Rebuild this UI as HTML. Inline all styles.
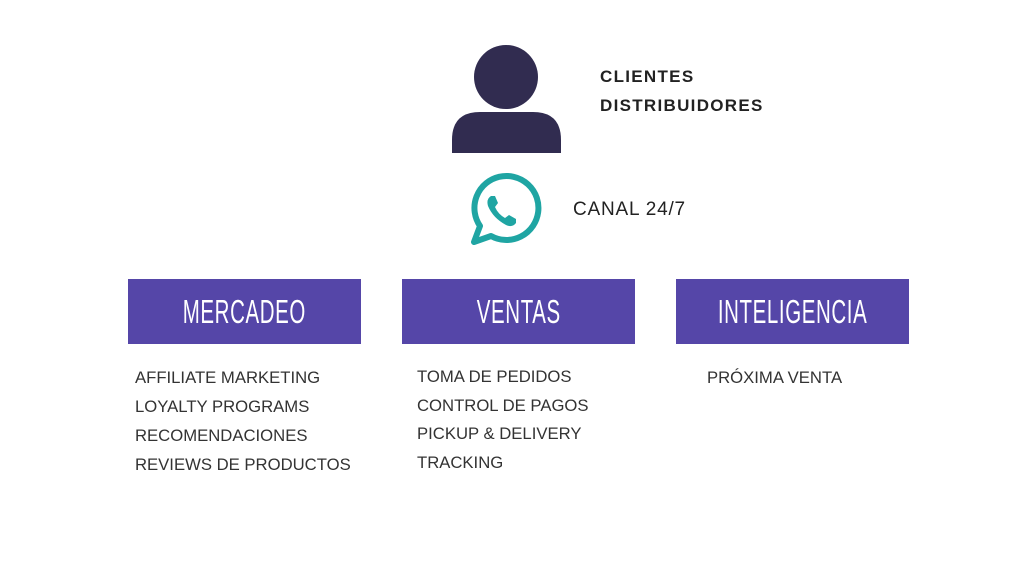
<!DOCTYPE html>
<html><head><style>
body{margin:0;width:1024px;height:576px;background:#fff;position:relative;overflow:hidden;font-family:"Liberation Sans",sans-serif}
.box{position:absolute;top:279px;width:233px;height:65px;background:#5546a8;color:#fff;display:flex;align-items:center;justify-content:center}
.box span{font-size:33px;display:inline-block;transform:scaleX(0.62);letter-spacing:1px;white-space:nowrap}
.list{position:absolute;font-size:16.7px;color:#333;line-height:29px;white-space:nowrap}
.t{position:absolute;color:#222;white-space:nowrap}
</style></head><body>
<svg width="1024" height="576" style="position:absolute;left:0;top:0">
<circle cx="506" cy="77" r="32" fill="#312c50"/>
<path d="M452 153 L452 140 Q452 112 480 112 L533 112 Q561 112 561 140 L561 153 Z" fill="#312c50"/>
<g fill="none" stroke="#1fa5a3" stroke-width="6">
<path d="M474 242 L480 226 A32 32 0 1 1 491 236 Z" stroke-linejoin="round"/>
</g>
<path d="M491 196 Q486 199 488 206 Q493 218 506 225 Q512 228 516 223 L516 219 L509 215 L505 218 Q498 214 495 207 L498 203 L495 196 Z" fill="#1fa5a3"/>
</svg>
<div class="t" style="left:600px;top:62px;font-size:17px;font-weight:bold;letter-spacing:1.3px;line-height:29px">CLIENTES<br>DISTRIBUIDORES</div>
<div class="t" style="left:573px;top:199px;font-size:19px;letter-spacing:0.8px">CANAL 24/7</div>
<div class="box" style="left:128px"><span>MERCADEO</span></div>
<div class="box" style="left:402px"><span>VENTAS</span></div>
<div class="box" style="left:676px"><span>INTELIGENCIA</span></div>
<div class="list" style="left:135px;top:363px">AFFILIATE MARKETING<br>LOYALTY PROGRAMS<br>RECOMENDACIONES<br>REVIEWS DE PRODUCTOS</div>
<div class="list" style="left:417px;top:363px;line-height:28.5px">TOMA DE PEDIDOS<br>CONTROL DE PAGOS<br>PICKUP &amp; DELIVERY<br>TRACKING</div>
<div class="list" style="left:707px;top:363px">PRÓXIMA VENTA</div>
</body></html>
